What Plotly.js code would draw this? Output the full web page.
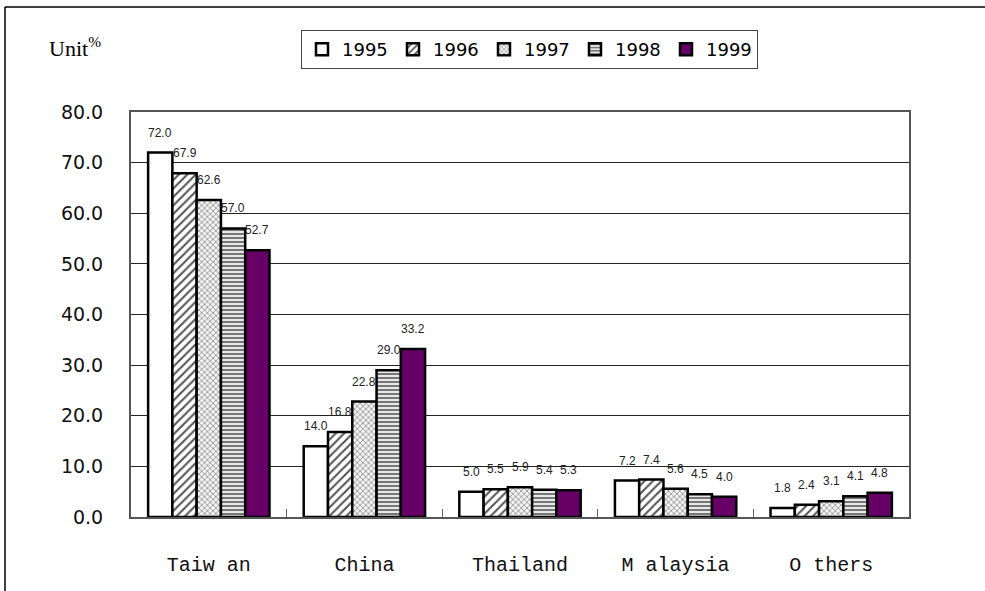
<!DOCTYPE html>
<html>
<head>
<meta charset="utf-8">
<script src="https://cdn.plot.ly/plotly-3.0.1.min.js"></script>
<style>
html,body{margin:0;padding:0;background:#fff;}
#chart{width:985px;height:591px;}
</style>
</head>
<body>
<div id="chart"></div>
<script>
// ---- data ----
var categories = ["Taiwan", "China", "Thailand", "Malaysia", "Others"];
var tickLabels = ["Taiw an", "China", "Thailand", "M alaysia", "O thers"];
var years = ["1995", "1996", "1997", "1998", "1999"];
var v1995 = [72.0, 14.0, 5.0, 7.2, 1.8];
var v1996 = [67.9, 16.8, 5.5, 7.4, 2.4];
var v1997 = [62.6, 22.8, 5.9, 5.6, 3.1];
var v1998 = [57.0, 29.0, 5.4, 4.5, 4.1];
var v1999 = [52.7, 33.2, 5.3, 4.0, 4.8];
var yTicks = [0, 10, 20, 30, 40, 50, 60, 70, 80];

var series = [v1995, v1996, v1997, v1998, v1999];
var styles = [
  {color: "#ffffff", pattern: {shape: ""}},
  {color: "#ffffff", pattern: {shape: "/", fgcolor: "#555555", bgcolor: "#ffffff", size: 6, solidity: 0.35}},
  {color: "#ffffff", pattern: {shape: "x", fgcolor: "#9a9a9a", bgcolor: "#f2f2f2", size: 4, solidity: 0.4}},
  {color: "#ffffff", pattern: {shape: "-", fgcolor: "#6a6a6a", bgcolor: "#e8e8e8", size: 4, solidity: 0.45}},
  {color: "#660066", pattern: {shape: ""}}
];

var traces = series.map(function (vals, i) {
  return {
    type: "bar",
    name: years[i],
    x: categories,
    y: vals,
    marker: {
      color: styles[i].color,
      pattern: styles[i].pattern,
      line: {color: "#000000", width: 2.5}
    },
    hoverinfo: "x+y+name"
  };
});

// data labels above each bar
var plotW = 985 - 131 - 76;
var bargap = 0.22;
var barW = plotW / categories.length * (1 - bargap) / series.length;
var annotations = [];
series.forEach(function (vals, i) {
  vals.forEach(function (v, j) {
    annotations.push({
      x: categories[j], y: v, xref: "x", yref: "y",
      text: v.toFixed(1), showarrow: false,
      xanchor: "center", yanchor: "bottom",
      xshift: (i - 2) * barW, yshift: 11,
      font: {family: "Liberation Sans, Arial, sans-serif", size: 12, color: "#222"}
    });
  });
});
annotations.push({
  xref: "paper", yref: "paper", x: -0.108, y: 1.16,
  xanchor: "left", yanchor: "middle", showarrow: false,
  text: "Unit<sup>%</sup>",
  font: {family: "Liberation Serif, Times New Roman, serif", size: 22, color: "#000"}
});

var layout = {
  width: 985, height: 591,
  margin: {l: 131, r: 76, t: 112, b: 74},
  paper_bgcolor: "#ffffff",
  plot_bgcolor: "#ffffff",
  barmode: "group",
  bargap: bargap,
  bargroupgap: 0,
  showlegend: true,
  legend: {
    orientation: "h",
    x: 0.2185, y: 1.2025, xanchor: "left", yanchor: "top",
    bordercolor: "#444", borderwidth: 1, bgcolor: "#ffffff",
    font: {family: "DejaVu Sans, sans-serif", size: 18, color: "#000"},
    entrywidth: 46, entrywidthmode: "pixels",
    traceorder: "normal"
  },
  xaxis: {
    type: "category",
    tickvals: categories,
    ticktext: tickLabels,
    tickson: "boundaries",
    ticks: "inside", ticklen: 8, tickcolor: "#666", tickwidth: 1,
    showline: true, linecolor: "#555", linewidth: 2, mirror: true,
    showgrid: false,
    ticklabelstandoff: 28,
    tickfont: {family: "Liberation Mono, Courier New, monospace", size: 20, color: "#111"}
  },
  yaxis: {
    range: [0, 80],
    tickvals: yTicks,
    tickformat: ".1f",
    ticks: "",
    showline: true, linecolor: "#555", linewidth: 2, mirror: true,
    showgrid: true, gridcolor: "#222", gridwidth: 1,
    zeroline: false,
    ticklabelstandoff: 22,
    tickfont: {family: "DejaVu Sans, sans-serif", size: 19, color: "#111"}
  },
  annotations: annotations,
  shapes: [
    {type: "line", xref: "paper", yref: "paper",
     x0: (5 - 131) / plotW, x1: (995 - 131) / plotW,
     y0: (517 - 7) / 405, y1: (517 - 7) / 405,
     line: {color: "#000", width: 1.5}},
    {type: "line", xref: "paper", yref: "paper",
     x0: (5 - 131) / plotW, x1: (5 - 131) / plotW,
     y0: (517 - 7) / 405, y1: (517 - 600) / 405,
     line: {color: "#000", width: 1.5}}
  ]
};

Plotly.newPlot("chart", traces, layout, {displayModeBar: false, staticPlot: true});
</script>
</body>
</html>
